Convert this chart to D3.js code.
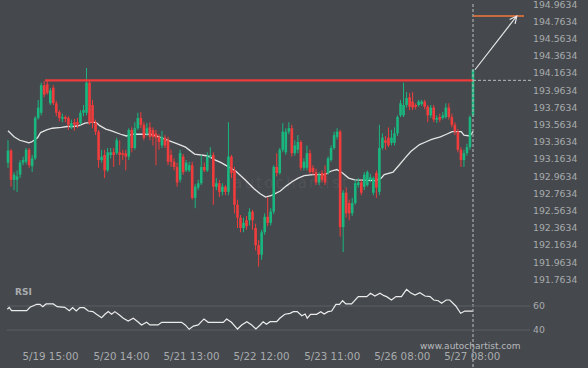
<!DOCTYPE html>
<html>
<head>
<meta charset="UTF-8">
<title>GBP/JPY resistance breakout</title>
<script src="https://d3js.org/d3.v7.min.js"></script>
<style>
  html, body { margin: 0; padding: 0; background: #45484c; }
  #chart text { font-family: "DejaVu Sans", sans-serif; }
</style>
</head>
<body>
<div id="chart"></div>
<script>
// -- data (hourly candles, oldest first) --
const candleOpen = [
  193.12,193.26,192.92,192.92,192.98,193.12,193.13,193.27,193.08,193.17,
  193.64,193.70,194.02,194.03,193.81,193.99,193.81,193.71,193.63,
  193.65,193.64,193.53,193.59,193.59,193.58,193.70,193.70,
  194.05,193.79,193.58,193.48,193.15,193.21,193.03,193.21,193.24,193.23,
  193.24,193.23,193.23,193.19,193.50,193.29,193.52,193.64,193.56,193.46,
  193.53,193.50,193.46,193.42,193.32,193.41,193.38,193.21,193.13,193.07,
  192.92,193.19,193.03,193.03,193.09,192.71,192.83,192.88,193.07,193.03,
  193.19,193.21,192.84,192.88,192.78,192.84,192.78,193.19,193.03,192.63,
  192.48,192.36,192.45,192.45,192.55,192.36,192.16,192.05,192.31,192.49,
  192.42,192.55,193.07,193.00,193.27,193.24,193.48,193.52,193.23,193.27,
  193.36,193.06,193.06,193.23,193.06,193.01,192.89,193.00,193.00,193.00,
  193.15,193.29,193.42,193.48,192.37,192.77,192.65,192.53,192.65,192.86,
  192.89,192.84,192.86,192.92,192.77,193.00,192.78,193.29,193.38,193.41,
  193.35,193.35,193.46,193.67,193.67,193.79,193.88,193.83,193.79,193.79,
  193.80,193.83,193.77,193.67,193.76,193.62,193.65,193.64,193.65,193.76,
  193.65,193.56,193.48,193.27,193.15,193.23,193.30,193.67];
const candleClose = [
  193.26,192.92,192.98,192.96,193.12,193.15,193.27,193.09,193.17,193.64,
  193.76,194.02,193.91,193.93,193.96,193.81,193.70,193.64,193.65,
  193.63,193.56,193.58,193.56,193.56,193.70,193.73,194.05,
  193.58,193.58,193.48,193.15,193.19,193.03,193.24,193.24,193.21,193.38,
  193.21,193.21,193.19,193.50,193.29,193.52,193.64,193.56,193.41,193.52,
  193.42,193.42,193.41,193.36,193.42,193.32,193.13,193.13,193.07,192.89,
  193.23,193.01,193.12,193.09,192.71,192.84,192.88,193.07,193.03,193.19,
  193.21,192.84,192.88,192.78,192.84,192.78,193.19,193.00,192.63,192.48,
  192.36,192.42,192.38,192.55,192.45,192.16,192.05,192.31,192.49,192.42,
  192.55,193.07,193.00,193.27,193.48,193.48,193.52,193.23,193.32,193.36,
  193.06,193.13,193.23,193.01,193.01,192.89,192.98,192.92,192.89,193.17,
  193.29,193.44,193.48,192.37,192.77,192.53,192.53,192.65,192.88,192.89,
  192.77,192.98,193.01,192.95,192.94,192.83,193.29,193.41,193.35,193.32,
  193.41,193.46,193.65,193.81,193.79,193.87,193.77,193.76,193.77,193.83,
  193.83,193.77,193.67,193.76,193.62,193.64,193.62,193.67,193.76,193.65,
  193.56,193.48,193.27,193.15,193.23,193.30,193.65,194.20];
const candleHigh = [
  193.38,193.28,193.01,193.03,193.15,193.19,193.29,193.29,193.21,193.66,
  193.85,194.05,194.07,194.07,193.99,194.02,193.84,193.73,193.69,
  193.67,193.66,193.62,193.63,193.64,193.73,193.79,194.22,
  194.07,193.85,193.62,193.50,193.27,193.27,193.29,193.29,193.29,193.41,
  193.38,193.27,193.27,193.52,193.53,193.59,193.70,193.71,193.59,193.58,
  193.59,193.53,193.50,193.45,193.49,193.44,193.42,193.27,193.17,193.12,
  193.27,193.22,193.15,193.13,193.13,192.87,192.92,193.21,193.12,193.24,
  193.30,193.24,192.94,192.92,192.88,192.86,193.59,193.21,193.07,192.69,
  192.51,192.48,192.50,192.59,192.57,192.41,192.22,192.34,192.53,192.72,
  192.59,193.09,193.23,193.29,193.58,193.52,193.59,193.56,193.38,193.44,
  193.38,193.17,193.32,193.27,193.09,193.05,193.01,193.03,193.09,193.19,
  193.32,193.48,193.52,193.50,192.80,192.83,192.69,192.71,192.92,192.94,
  192.92,193.01,193.03,192.99,192.96,193.03,193.56,193.46,193.43,193.53,
  193.50,193.53,193.67,193.85,194.05,193.94,193.93,193.94,193.81,193.85,
  193.85,193.85,193.79,193.79,193.79,193.67,193.69,193.71,193.81,193.81,
  193.69,193.59,193.51,193.30,193.27,193.34,193.67,194.20];
const candleLow = [
  193.06,192.84,192.80,192.78,192.94,193.09,193.10,193.06,193.01,193.15,
  193.62,193.67,193.88,193.91,193.79,193.79,193.66,193.60,193.59,
  193.59,193.50,193.51,193.49,193.52,193.56,193.66,193.67,
  193.56,193.52,193.44,193.06,193.12,192.94,193.01,193.17,193.07,193.21,
  193.09,193.15,193.03,193.15,193.24,193.27,193.50,193.52,193.38,193.43,
  193.38,193.32,193.09,193.27,193.29,193.29,193.09,193.07,193.03,192.84,
  192.89,192.98,193.01,193.01,192.69,192.59,192.80,192.86,193.01,193.01,
  193.17,192.63,192.80,192.72,192.74,192.74,192.74,192.94,192.53,192.36,
  192.31,192.31,192.34,192.39,192.34,192.10,191.91,191.99,192.28,192.38,
  192.39,192.52,192.96,192.98,193.24,193.21,193.45,193.19,193.20,193.23,
  193.03,193.03,193.03,192.99,192.98,192.86,192.86,192.89,192.86,192.98,
  193.13,193.27,193.39,192.26,192.08,192.48,192.45,192.50,192.63,192.83,
  192.74,192.80,192.84,192.89,192.74,192.71,192.74,193.27,193.27,193.30,
  193.32,193.32,193.43,193.65,193.65,193.76,193.73,193.73,193.74,193.77,
  193.78,193.74,193.59,193.64,193.59,193.58,193.59,193.62,193.63,193.62,
  193.53,193.44,193.24,193.07,193.07,193.20,193.27,193.65];

// moving average (white line), read at candle positions
const maIdx = [0,2,3.9,5.9,6.9,7.8,9.8,10.8,12.8,14.7,17.7,19.6,21.6,23.5,25.5,28.4,29.4,30.4,32.4,34.3,
  37.3,39.2,41.2,44.1,47.1,50,53,55.9,58.8,61.8,65.7,66.7,68.7,70.6,72.6,75.5,78.5,81.4,83.4,85.3,
  87.3,90.2,92.2,94.2,96.1,98.1,101,104.9,106.9,108.9,110.8,112.8,114.8,121.6,123.6,124.6,127.5,129.5,131.4,133.4,
  136.3,138.3,140.3,143.2,145.2,147.1,150.1,151,153,154];
const maVal = [193.49,193.42,193.38,193.36,193.35,193.36,193.41,193.47,193.50,193.52,
  193.53,193.54,193.54,193.55,193.58,193.59,193.58,193.55,193.51,193.49,
  193.45,193.43,193.45,193.45,193.45,193.42,193.38,193.34,193.30,193.22,
  193.20,193.19,193.15,193.12,193.08,193.02,192.92,192.82,192.76,192.72,
  192.74,192.79,192.85,192.90,192.94,192.97,192.98,192.98,193.02,193.04,
  193.00,192.94,192.92,192.91,192.94,192.98,193.01,193.09,193.17,193.25,
  193.33,193.36,193.39,193.42,193.45,193.48,193.48,193.44,193.43,193.48];

// RSI panel
const rsiIdx = [-0.2,0.4,1.2,6.2,7.3,9.5,10.6,11.5,12.6,15,16.3,18.8,20.3,21.4,22.6,23.8,25.2,26.6,28.1,29.3,
  31,32.1,33.2,34.3,35.4,36.9,38.2,39.8,41.5,43,44.2,45.9,47,49.7,50.9,57.5,58.7,60,61.4,63,
  64.9,66.3,71.3,72.4,74,76,77.4,79.1,80.7,82.1,83.5,84.5,85.6,86.8,89,90,91.7,93.4,94.5,95.8,
  97.3,98.4,99.1,100.2,102.2,103.6,104.7,106,107.2,108.6,109.8,110.8,111.9,113.8,116,118.8,120.1,121.5,123.2,124.5,
  125.4,127,128.5,130.3,132,133.3,134.8,136.4,138.1,139.8,141,142.5,143.6,145.1,146.3,148.3,149.9,151.3,153.9];
const rsiVal = [57.3,58.9,56.1,56.1,58.9,61.4,61.4,59.4,61.7,61.7,59.4,58.9,56.1,58.6,55.8,58.6,58.6,55.8,55.3,53.1,
  50.3,53.1,55.3,53.1,55.3,52.5,49.8,47.5,49.8,46.9,44.2,46.4,44.2,44.2,46.4,46.4,44.2,40.6,43.3,44.2,
  49.2,46.4,46.4,49.2,46.4,40.8,44.2,46.9,44.2,40.8,44.2,46.9,44.8,46.9,46.9,49.8,53.1,53.9,55.3,55.3,
  51.9,53.3,49.8,53.1,53.1,55.3,53.3,55.3,55.8,61.4,61.4,64.4,61.7,61.7,67.8,67.8,70.6,68.3,70.6,68.6,
  67.8,65,67.8,67.8,73.9,71.1,69.2,71.1,68.3,67.8,65,64.4,62.3,65,65,60,53.9,55.8,55.8];

// levels of the pattern
const resistanceLevel = 194.077, resistanceStart = 12.25;
const targetLevel = 194.825, targetEnd = 170.9, arrowEnd = 168.5;

// axes
const priceTicks = [194.9634,194.7634,194.5634,194.3634,194.1634,193.9634,193.7634,193.5634,
  193.3634,193.1634,192.9634,192.7634,192.5634,192.3634,192.1634,191.9634,191.7634];
const rsiTicks = [60, 40];
const timeIdx = [13.9, 37.4, 60.6, 83.8, 107.2, 130.4, 153.6];
const timeLabels = ["5/19 15:00","5/20 14:00","5/21 13:00","5/22 12:00","5/23 11:00","5/26 08:00","5/27 08:00"];

// -- drawing --
const width = 588, height = 368;
const green = "#19b77f", red = "#f03c3c";
const last = candleClose.length - 1;

const x = d3.scaleLinear().domain([0, last]).range([8, 473]);
const y = d3.scaleLinear().domain([191.7634, 194.9634]).range([279.3, 4.1]);
const yRsi = d3.scaleLinear().domain([40, 60]).range([330, 306]);

const svg = d3.select("#chart").append("svg")
    .attr("width", width)
    .attr("height", height);

svg.append("rect").attr("width", width).attr("height", height).attr("fill", "#45484c");

// faint watermark in the middle
svg.append("text")
    .attr("x", 233).attr("y", 188)
    .attr("font-size", 15).attr("letter-spacing", 2.2)
    .attr("fill", "#ffffff").attr("fill-opacity", 0.07)
    .text("autochartist");

// moving average
svg.append("path")
    .datum(maIdx.map((d, i) => [d, maVal[i]]))
    .attr("fill", "none")
    .attr("stroke", "#e4e4e4")
    .attr("stroke-width", 1.3)
    .attr("d", d3.line().x(d => x(d[0])).y(d => y(d[1])));

// candles
const candles = svg.append("g").selectAll("g")
    .data(candleClose.map((c, i) => ({ i, o: candleOpen[i], c, h: candleHigh[i], l: candleLow[i] })))
    .join("g")
    .attr("fill", d => d.c >= d.o ? green : red)
    .attr("stroke", d => d.c >= d.o ? green : red);

candles.append("line")
    .attr("x1", d => x(d.i)).attr("x2", d => x(d.i))
    .attr("y1", d => y(d.h)).attr("y2", d => y(d.l))
    .attr("stroke-width", 1);

candles.append("rect")
    .attr("stroke", "none")
    .attr("x", d => x(d.i) - 1.3)
    .attr("width", 2.6)
    .attr("y", d => y(Math.max(d.o, d.c)))
    .attr("height", d => Math.max(1, Math.abs(y(d.o) - y(d.c))));

// resistance line
svg.append("line")
    .attr("x1", x(resistanceStart)).attr("x2", x(last))
    .attr("y1", y(resistanceLevel)).attr("y2", y(resistanceLevel))
    .attr("stroke", "#ef3b3b").attr("stroke-width", 2.4);

svg.append("line")
    .attr("x1", x(last)).attr("x2", 531)
    .attr("y1", y(resistanceLevel)).attr("y2", y(resistanceLevel))
    .attr("stroke", "#b9bbbd").attr("stroke-width", 1)
    .attr("stroke-dasharray", "3,2");

// vertical marker at the last candle
svg.append("line")
    .attr("x1", x(last)).attr("x2", x(last))
    .attr("y1", 4).attr("y2", height)
    .attr("stroke", "#bfc1c3").attr("stroke-width", 1)
    .attr("stroke-dasharray", "3,2");

// target level + arrow
svg.append("line")
    .attr("x1", x(last)).attr("x2", x(targetEnd))
    .attr("y1", y(targetLevel)).attr("y2", y(targetLevel))
    .attr("stroke", "#f2793a").attr("stroke-width", 1.5);

const ax0 = x(last) + 2, ay0 = y(candleHigh[last]);
const ax1 = x(arrowEnd), ay1 = y(targetLevel);
const ang = Math.atan2(ay1 - ay0, ax1 - ax0);
const head = 8, spread = 0.45;
svg.append("path")
    .attr("fill", "none").attr("stroke", "#e6e6e6").attr("stroke-width", 1.2)
    .attr("d", `M${ax0},${ay0}L${ax1},${ay1}` +
        `M${ax1 - head * Math.cos(ang - spread)},${ay1 - head * Math.sin(ang - spread)}L${ax1},${ay1}` +
        `L${ax1 - head * Math.cos(ang + spread)},${ay1 - head * Math.sin(ang + spread)}`);

// price axis
const yAxis = svg.append("g")
    .attr("transform", "translate(533,0)")
    .call(d3.axisRight(y).tickValues(priceTicks).tickSize(0).tickPadding(0).tickFormat(d3.format(".4f")));
yAxis.select(".domain").remove();
yAxis.selectAll("text").attr("fill", "#a8abae").attr("font-size", 9.3);

// RSI panel
svg.append("g").selectAll("line")
    .data(rsiTicks)
    .join("line")
    .attr("x1", 7).attr("x2", 530)
    .attr("y1", d => yRsi(d)).attr("y2", d => yRsi(d))
    .attr("stroke", "#5c6064").attr("stroke-width", 1);

svg.append("path")
    .datum(rsiIdx.map((d, i) => [d, rsiVal[i]]))
    .attr("fill", "none")
    .attr("stroke", "#ececec")
    .attr("stroke-width", 1.2)
    .attr("d", d3.line().x(d => x(d[0])).y(d => yRsi(d[1])));

const rAxis = svg.append("g")
    .attr("transform", "translate(533,0)")
    .call(d3.axisRight(yRsi).tickValues(rsiTicks).tickSize(0).tickPadding(0));
rAxis.select(".domain").remove();
rAxis.selectAll("text").attr("fill", "#a8abae").attr("font-size", 9.3);

svg.append("text")
    .attr("x", 15).attr("y", 294.5)
    .attr("font-size", 9).attr("font-weight", "bold")
    .attr("fill", "#a9acaf")
    .text("RSI");

// time axis
const xAxis = svg.append("g")
    .attr("transform", "translate(0,353)")
    .call(d3.axisBottom(x).tickValues(timeIdx).tickSize(0).tickPadding(0)
        .tickFormat((d, i) => timeLabels[i]));
xAxis.select(".domain").remove();
xAxis.selectAll("text").attr("fill", "#a8abae").attr("font-size", 10.3);

// site credit
svg.append("text")
    .attr("x", 420).attr("y", 348.5)
    .attr("font-size", 9)
    .attr("fill", "#b8bbbe")
    .text("www.autochartist.com");
</script>
</body>
</html>
